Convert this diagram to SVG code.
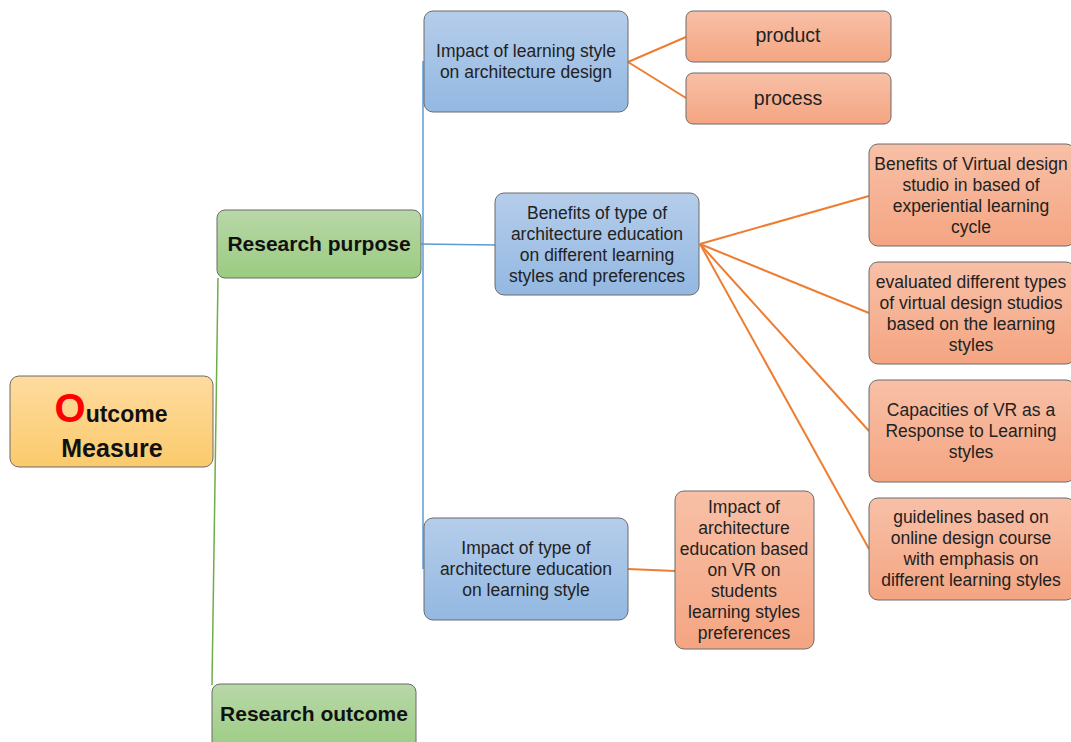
<svg xmlns="http://www.w3.org/2000/svg" width="1071" height="742" viewBox="0 0 1071 742">
  <defs>
    <linearGradient id="gYellow" x1="0" y1="0" x2="0" y2="1">
      <stop offset="0" stop-color="#fedb9f"/>
      <stop offset="1" stop-color="#fbca6c"/>
    </linearGradient>
    <linearGradient id="gGreen" x1="0" y1="0" x2="0" y2="1">
      <stop offset="0" stop-color="#b8d8a8"/>
      <stop offset="1" stop-color="#9bcb80"/>
    </linearGradient>
    <linearGradient id="gBlue" x1="0" y1="0" x2="0" y2="1">
      <stop offset="0" stop-color="#b5cdea"/>
      <stop offset="1" stop-color="#93b8e2"/>
    </linearGradient>
    <linearGradient id="gOrange" x1="0" y1="0" x2="0" y2="1">
      <stop offset="0" stop-color="#f8c0a7"/>
      <stop offset="1" stop-color="#f4a582"/>
    </linearGradient>
  </defs>
  <style>
    .box { stroke: #6b6b6b; stroke-width: 1; }
    .yellow { fill: url(#gYellow); }
    .green { fill: url(#gGreen); }
    .blue { fill: url(#gBlue); }
    .orange { fill: url(#gOrange); }
    text { font-family: "Liberation Sans", Arial, sans-serif; fill: #222; text-anchor: middle; }
    .t { font-size: 17.5px; }
    .big { font-size: 19.5px; }
    .h { font-size: 21px; font-weight: bold; fill: #111; }
    .ln-g { stroke: #70ad47; stroke-width: 1.5; fill: none; }
    .ln-b { stroke: #5b9bd5; stroke-width: 1.5; fill: none; }
    .ln-o { stroke: #ed7d31; stroke-width: 2; fill: none; }
  </style>
  <rect width="1071" height="742" fill="#ffffff"/>

  <!-- connectors -->
  <g id="connectors">
    <line class="ln-g" x1="218" y1="278" x2="212" y2="685"/>
    <line class="ln-b" x1="423" y1="61" x2="423" y2="569"/>
    <line class="ln-b" x1="421" y1="244" x2="495" y2="245"/>
    <line class="ln-o" x1="628" y1="62" x2="686" y2="37"/>
    <line class="ln-o" x1="628" y1="62" x2="686" y2="98"/>
    <line class="ln-o" x1="700" y1="244" x2="869" y2="196"/>
    <line class="ln-o" x1="700" y1="244" x2="869" y2="313"/>
    <line class="ln-o" x1="700" y1="244" x2="869" y2="431"/>
    <line class="ln-o" x1="700" y1="244" x2="869" y2="549"/>
    <line class="ln-o" x1="628" y1="569" x2="675" y2="571"/>
  </g>

  <!-- root -->
  <g id="outcome-measure">
    <rect class="box yellow" x="10" y="376" width="203" height="91" rx="9"/>
    <text x="111" y="422" style="font-weight:bold;font-size:23px;fill:#111"><tspan style="font-size:40px;fill:#ff0000">O</tspan>utcome</text>
    <text x="112" y="457" style="font-weight:bold;font-size:25px;fill:#111">Measure</text>
  </g>

  <g id="research-purpose">
    <rect class="box green" x="217" y="210" width="204" height="68" rx="8"/>
    <text class="h" x="319" y="251">Research purpose</text>
  </g>

  <g id="research-outcome">
    <rect class="box green" x="212" y="684" width="204" height="70" rx="8"/>
    <text class="h" x="314" y="721">Research outcome</text>
  </g>

  <g id="impact-learning-style">
    <rect class="box blue" x="424" y="11" width="204" height="101" rx="9"/>
    <text class="t" x="526" y="57">Impact of learning style</text>
    <text class="t" x="526" y="78">on architecture design</text>
  </g>

  <g id="benefits-type">
    <rect class="box blue" x="495" y="193" width="204" height="102" rx="9"/>
    <text class="t" x="597" y="219">Benefits of type of</text>
    <text class="t" x="597" y="240">architecture education</text>
    <text class="t" x="597" y="261">on different learning</text>
    <text class="t" x="597" y="282">styles and preferences</text>
  </g>

  <g id="impact-type-education">
    <rect class="box blue" x="424" y="518" width="204" height="102" rx="9"/>
    <text class="t" x="526" y="554">Impact of type of</text>
    <text class="t" x="526" y="575">architecture education</text>
    <text class="t" x="526" y="596">on learning style</text>
  </g>

  <g id="product">
    <rect class="box orange" x="686" y="11" width="205" height="51" rx="7"/>
    <text class="big" x="788" y="42">product</text>
  </g>

  <g id="process">
    <rect class="box orange" x="686" y="73" width="205" height="51" rx="7"/>
    <text class="big" x="788" y="105">process</text>
  </g>

  <g id="virtual-studio-benefits">
    <rect class="box orange" x="869" y="144" width="206" height="102" rx="9"/>
    <text class="t" x="971" y="170">Benefits of Virtual design</text>
    <text class="t" x="971" y="191">studio in based of</text>
    <text class="t" x="971" y="212">experiential learning</text>
    <text class="t" x="971" y="233">cycle</text>
  </g>

  <g id="virtual-studio-types">
    <rect class="box orange" x="869" y="262" width="206" height="102" rx="9"/>
    <text class="t" x="971" y="288">evaluated different types</text>
    <text class="t" x="971" y="309">of virtual design studios</text>
    <text class="t" x="971" y="330">based on the learning</text>
    <text class="t" x="971" y="351">styles</text>
  </g>

  <g id="vr-capacities">
    <rect class="box orange" x="869" y="380" width="206" height="102" rx="9"/>
    <text class="t" x="971" y="416">Capacities of VR as a</text>
    <text class="t" x="971" y="437">Response to Learning</text>
    <text class="t" x="971" y="458">styles</text>
  </g>

  <g id="online-guidelines">
    <rect class="box orange" x="869" y="498" width="206" height="102" rx="9"/>
    <text class="t" x="971" y="523">guidelines based on</text>
    <text class="t" x="971" y="544">online design course</text>
    <text class="t" x="971" y="565">with emphasis on</text>
    <text class="t" x="971" y="586">different learning styles</text>
  </g>

  <g id="vr-education-impact">
    <rect class="box orange" x="675" y="491" width="139" height="158" rx="9"/>
    <text class="t" x="744" y="513">Impact of</text>
    <text class="t" x="744" y="534">architecture</text>
    <text class="t" x="744" y="555">education based</text>
    <text class="t" x="744" y="576">on VR on</text>
    <text class="t" x="744" y="597">students</text>
    <text class="t" x="744" y="618">learning styles</text>
    <text class="t" x="744" y="639">preferences</text>
  </g>
</svg>
